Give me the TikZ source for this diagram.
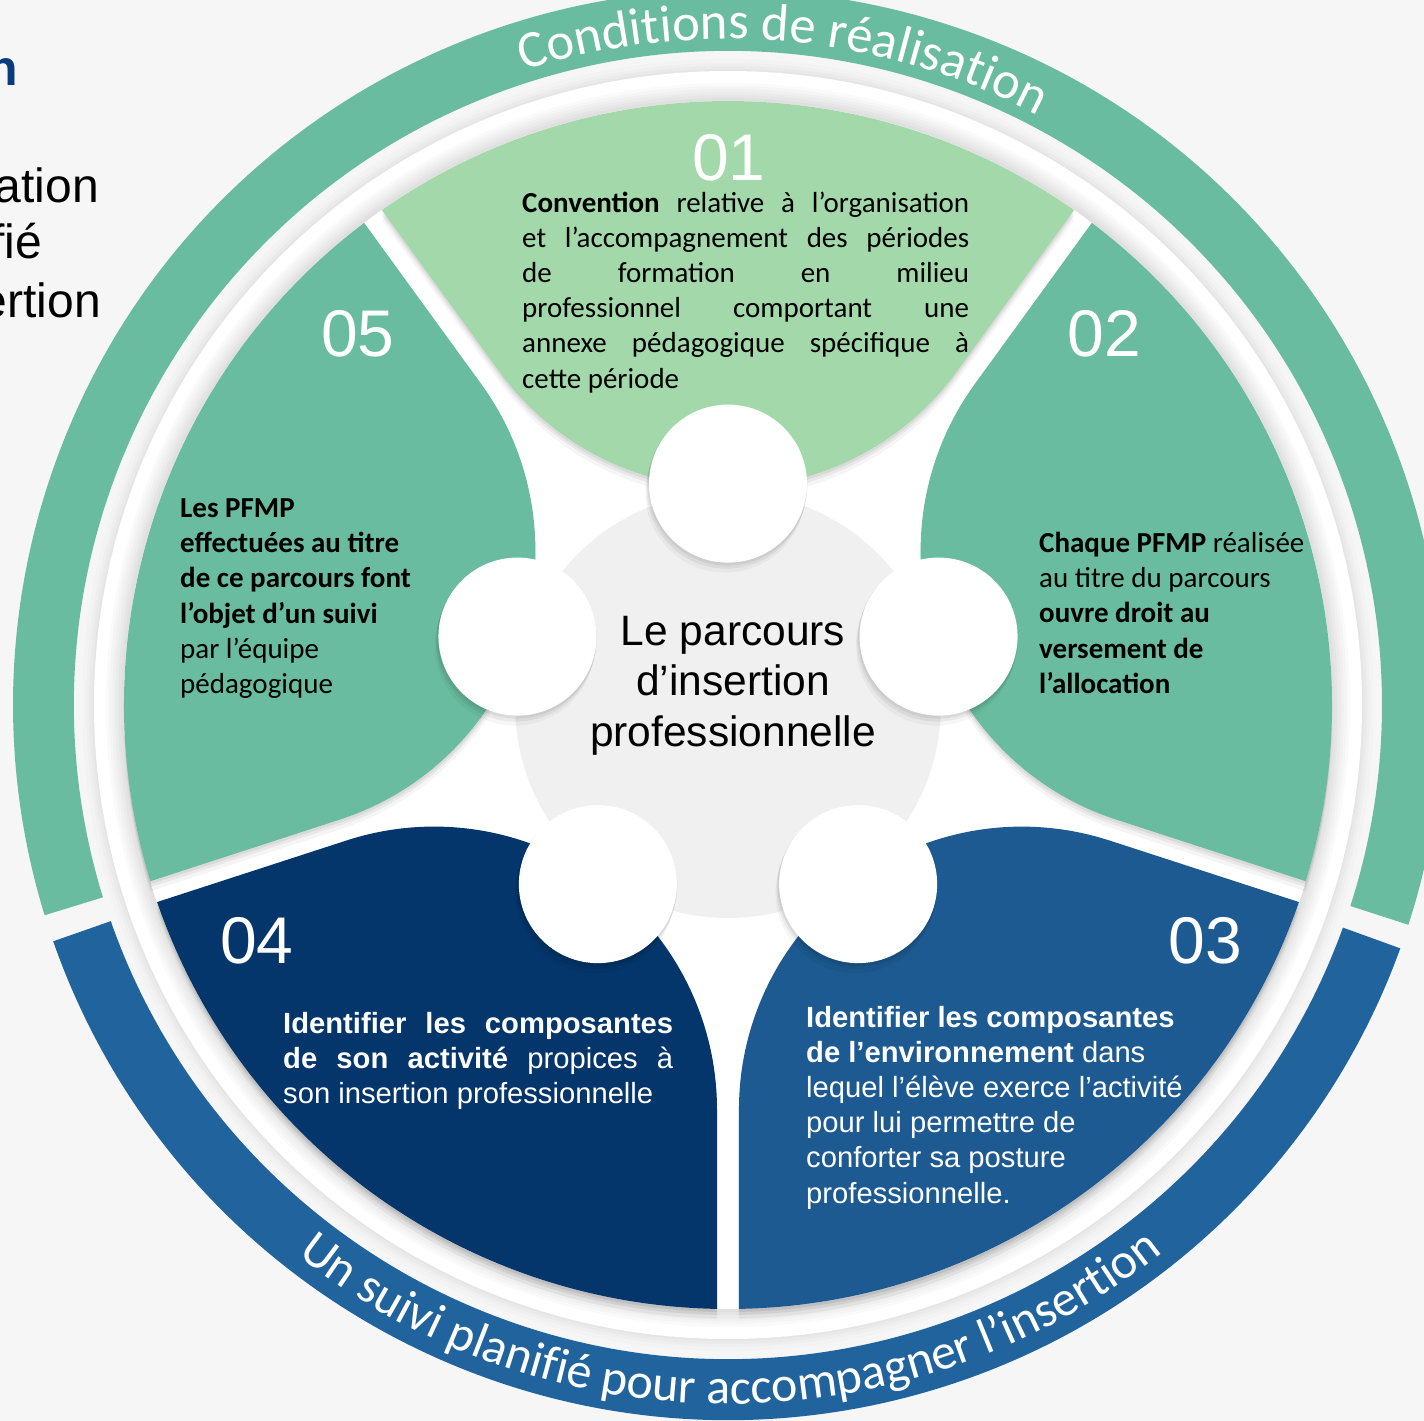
\documentclass[tikz,border=0pt]{standalone}
\usepackage{fontspec}
\setmainfont{Carlito}
\newfontfamily\arialfont{Liberation Sans}
\usetikzlibrary{decorations.text}
\definecolor{bgcol}{HTML}{F6F6F6}
\definecolor{grn}{HTML}{69BC9F}
\definecolor{lgrn}{HTML}{A3D9AA}
\definecolor{ringblue}{HTML}{21649D}
\definecolor{pblue}{HTML}{1D5A91}
\definecolor{pnavy}{HTML}{04366B}
\definecolor{navytxt}{HTML}{0A3B7D}
\definecolor{innergray}{HTML}{E6E6E8}
\definecolor{coregray}{HTML}{F0F0F1}
\pgfdeclareradialshading{innerdisk}{\pgfpointorigin}{color(0bp)=(white); color(30bp)=(white); color(44bp)=(white!65!innergray); color(50bp)=(innergray)}

\tikzset{
  numtxt/.style={text=white, font=\arialfont\fontsize{66}{66}\selectfont, inner sep=0pt, anchor=base},
  blk/.style={inner sep=0pt, anchor=base west},
  frag/.style={inner sep=0pt, anchor=base east, font=\arialfont\fontsize{48}{56}\selectfont},
  smallcirc/.style={circle, fill=white, minimum size=158pt, inner sep=0pt},
}

\newcommand{\petal}[2]{%
  \foreach \dy/\op in {3/0.06,6/0.05,10/0.04}{%
    \fill[black,opacity=\op,shift={(0,-\dy)},rotate=#1] (333.7,228.9) -- (495.0,346.1) arc[start angle=34.96,end angle=-34.96,radius=604pt] -- (333.7,-228.9) arc[start angle=234,end angle=126,radius=282.9pt] -- cycle;}
  \fill[#2,rotate=#1] (333.7,228.9) -- (495.0,346.1) arc[start angle=34.96,end angle=-34.96,radius=604pt] -- (333.7,-228.9) arc[start angle=234,end angle=126,radius=282.9pt] -- cycle;}

\begin{document}
\begin{tikzpicture}[x=1pt,y=1pt]
\useasboundingbox (0,-1421) rectangle (1424,0);
\fill[bgcol] (0,-1421) rectangle (1424,0);

\begin{scope}[shift={(728,-705)}]
  % outer ring
  \fill[grn] (-17.9:715pt) arc[start angle=-17.9,end angle=197.1,radius=715pt] -- (197.1:654pt) arc[start angle=197.1,end angle=-17.9,radius=654pt] -- cycle;
  \fill[ringblue] (199.3:715pt) arc[start angle=199.3,end angle=340.1,radius=715pt] -- (340.1:654pt) arc[start angle=340.1,end angle=199.3,radius=654pt] -- cycle;
  % white disk with soft shadow
  \foreach \r/\o in {646/0.01,642/0.015,639/0.02,636/0.02}{\fill[black,opacity=\o] (0,0) circle[radius=\r pt];}
  \fill[white] (0,0) circle[radius=634pt];
  \foreach \r/\c in {622/2,619/4,616/6,613/8,610/10,607/12}{\fill[black!\c!white] (0,0) circle[radius=\r pt];}
  \shade[shading=innerdisk] (0,0) circle[radius=604pt];
  % petals
  \petal{90}{lgrn}
  \petal{18}{grn}
  \petal{-54}{pblue}
  \petal{-126}{pnavy}
  \petal{162}{grn}
  % core
  \fill[coregray] (0,0) circle[radius=213pt];
  % small circles
  \foreach \a/\n in {90/c1,18/c2,-54/c3,-126/c4,162/c5}{
    \foreach \s/\o in {2/0.06,5/0.05,9/0.035}{\fill[black,opacity=\o,shift={(\a:221.4pt)}] (-0.3*\s,-\s) circle[radius=80pt];}
    \node[smallcirc] (\n) at (\a:221.4pt) {};
  }
  % ring texts
  \path[decorate, decoration={text along path, text align=center,
     text={|\fontsize{52.5}{60}\selectfont\color{white}|Conditions de réalisation}}]
     (130.05:666pt) arc[start angle=130.05,end angle=40.05,radius=666pt];
  \path[decorate, decoration={text along path, text align=center,
     text={|\fontsize{50}{60}\selectfont\color{white}|Un suivi planifié pour accompagner l’insertion}}]
     (225.2:699pt) arc[start angle=225.2,end angle=315.2,radius=699pt];
\end{scope}

% left fragments
\node[frag, text=navytxt, font=\arialfont\bfseries\fontsize{50}{56}\selectfont] (f0) at (18,-85) {n};
\node[frag] (f1) at (99,-202) {ation};
\node[frag] (f2) at (42,-258) {fié};
\node[frag] (f3) at (101,-317) {ertion};

% numbers
\node[numtxt] (n01) at (729,-180) {01};
\node[numtxt] (n02) at (1104,-356) {02};
\node[numtxt] (n05) at (358,-356) {05};
\node[numtxt] (n04) at (257,-963) {04};
\node[numtxt] (n03) at (1205,-963) {03};

% segment texts
\node[blk] (t01) at (522,-212) {\parbox[t]{447pt}{\fontsize{29}{35.2}\selectfont
\makebox[447pt][s]{\textbf{Convention} relative à l’organisation}\\
\makebox[447pt][s]{et l’accompagnement des périodes}\\
\makebox[447pt][s]{de formation en milieu}\\
\makebox[447pt][s]{professionnel comportant une}\\
\makebox[447pt][s]{annexe pédagogique spécifique à}\\
cette période}};

\node[blk] (t02) at (1039,-552.5) {\parbox[t]{300pt}{\fontsize{29}{35.2}\selectfont
\textbf{Chaque PFMP} réalisée\\
au titre du parcours\\
\textbf{ouvre droit au}\\
\textbf{versement de}\\
\textbf{l’allocation}}};

\node[blk] (t05) at (180,-517.5) {\parbox[t]{300pt}{\fontsize{29}{35.2}\selectfont
\textbf{Les PFMP}\\
\textbf{effectuées au titre}\\
\textbf{de ce parcours font}\\
\textbf{l’objet d’un suivi}\\
par l’équipe\\
pédagogique}};

\node[blk, text=white] (t04) at (283,-1033) {\parbox[t]{400pt}{\arialfont\fontsize{29.2}{35.2}\selectfont
\makebox[390pt][s]{\textbf{Identifier les composantes}}\\
\makebox[390pt][s]{\textbf{de son activité} propices à}\\
son insertion professionnelle}};

\node[blk, text=white] (t03) at (806,-1027) {\parbox[t]{400pt}{\arialfont\fontsize{29.2}{35.2}\selectfont
\textbf{Identifier les composantes}\\
\textbf{de l’environnement} dans\\
lequel l’élève exerce l’activité\\
pour lui permettre de\\
conforter sa posture\\
professionnelle.}};

% centre
\node[inner sep=0pt, anchor=base] (ctr) at (733,-645) {\parbox[t]{420pt}{\centering\arialfont\fontsize{42.5}{50.5}\selectfont
Le parcours\\d’insertion\\professionnelle}};
\end{tikzpicture}
\end{document}
